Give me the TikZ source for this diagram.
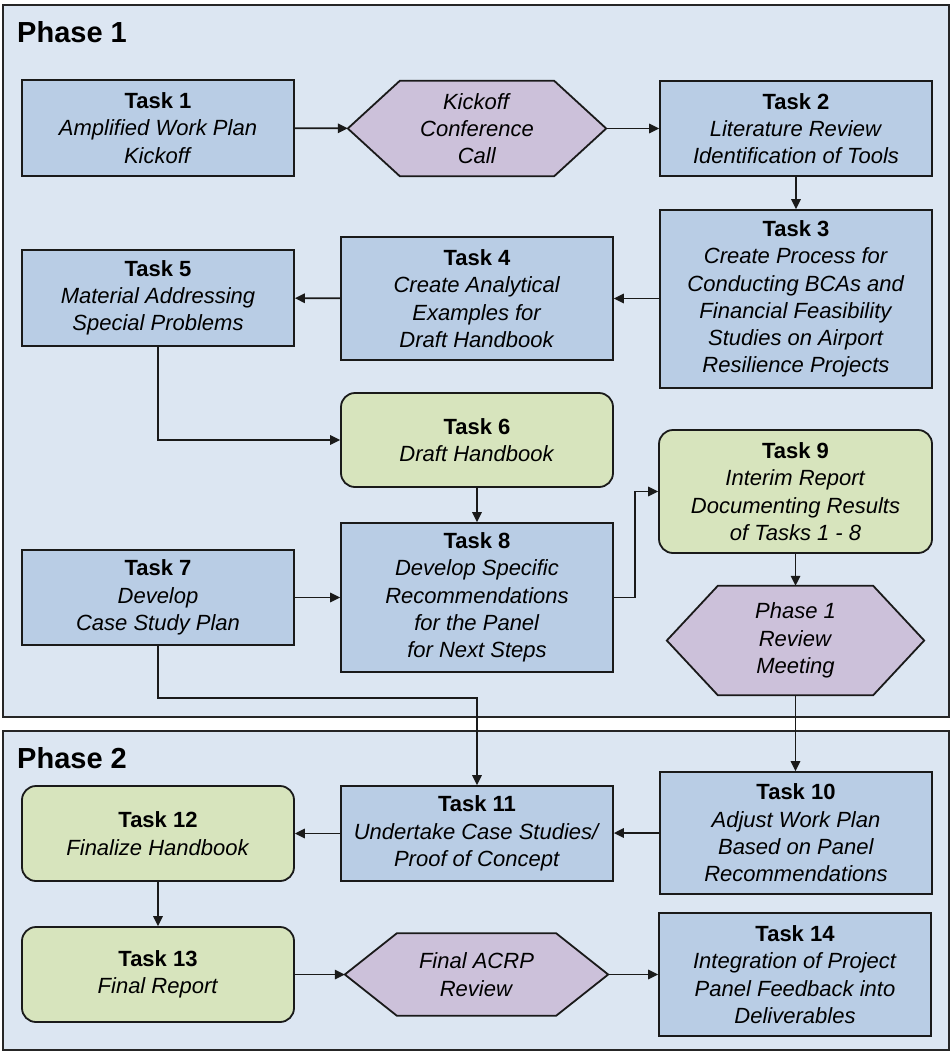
\documentclass[tikz,border=0pt]{standalone}
\usepackage{fontspec}
\setmainfont{Liberation Sans}
\usetikzlibrary{arrows.meta,calc}
\pgfdeclarelayer{bg}
\pgfdeclarelayer{hexl}
\pgfsetlayers{bg,hexl,main}
\definecolor{phasebg}{HTML}{DCE6F2}
\definecolor{boxblue}{HTML}{B9CDE5}
\definecolor{boxgreen}{HTML}{D7E4BD}
\definecolor{boxpurple}{HTML}{CCC1DA}
\definecolor{edge}{HTML}{1A1A1A}
\definecolor{phaseedge}{HTML}{262626}
\newcommand{\tl}[1]{\textbf{#1}}
\newcommand{\il}[1]{\textit{#1}}
\tikzset{
  base/.style={inner sep=0pt, align=center, font=\fontsize{22}{27.3}\selectfont, text=black},
  bluebox/.style={base, draw=edge, line width=1.8pt, fill=boxblue},
  greenbox/.style={base, draw=edge, line width=1.8pt, fill=boxgreen, rounded corners=14pt},
  hexnode/.style={base},
  hexfill/.style={draw=edge, line width=1.8pt, fill=boxpurple, line join=miter},
  conn/.style={draw=edge, line width=1.6pt, -{Triangle[length=10pt,width=9.5pt]}},
  phase/.style={draw=phaseedge, line width=2pt, fill=phasebg},
  phasetitle/.style={anchor=base west, inner sep=0pt, font=\fontsize{29}{34}\selectfont\bfseries}
}
\newcommand{\hexagon}[2]{%
  \begin{pgfonlayer}{hexl}
  \draw[hexfill] ([xshift=#2]#1.north west) -- ([xshift=-#2]#1.north east) -- (#1.east)
     -- ([xshift=-#2]#1.south east) -- ([xshift=#2]#1.south west) -- (#1.west) -- cycle;
  \end{pgfonlayer}}
\begin{document}
\begin{tikzpicture}[x=1pt,y=-1pt]
\useasboundingbox (0,0) rectangle (952,1053);
\begin{pgfonlayer}{bg}
  \fill[white] (0,0) rectangle (952,1053);
  \draw[phase] (3,5) rectangle (949,717);
  \draw[phase] (3,731) rectangle (949,1050);
\end{pgfonlayer}
\node[phasetitle] (p1) at (17,42) {Phase 1};
\node[phasetitle] (p2) at (17,768) {Phase 2};

% Phase 1
\node[bluebox, minimum width=272, minimum height=96] (t1) at (158,128) {\tl{Task 1}\\\il{Amplified Work Plan}\\\il{Kickoff}};
\node[hexnode, minimum width=258, minimum height=95] (kick) at (477,128.5) {\il{Kickoff}\\\il{Conference}\\\il{Call}};
\hexagon{kick}{52}
\node[bluebox, minimum width=272, minimum height=95] (t2) at (796,128.5) {\tl{Task 2}\\\il{Literature Review}\\\il{Identification of Tools}};
\node[bluebox, minimum width=272, minimum height=178] (t3) at (796,299) {\tl{Task 3}\\\il{Create Process for}\\\il{Conducting BCAs and}\\\il{Financial Feasibility}\\\il{Studies on Airport}\\\il{Resilience Projects}};
\node[bluebox, minimum width=272, minimum height=123] (t4) at (477,298.5) {\tl{Task 4}\\\il{Create Analytical}\\\il{Examples for}\\\il{Draft Handbook}};
\node[bluebox, minimum width=272, minimum height=96] (t5) at (158,298) {\tl{Task 5}\\\il{Material Addressing}\\\il{Special Problems}};
\node[greenbox, minimum width=272, minimum height=94] (t6) at (477,440) {\tl{Task 6}\\\il{Draft Handbook}};
\node[greenbox, minimum width=273, minimum height=123] (t9) at (795.5,491.5) {\tl{Task 9}\\\il{Interim Report}\\\il{Documenting Results}\\\il{of Tasks 1 - 8}};
\node[bluebox, minimum width=272, minimum height=95] (t7) at (158,597.5) {\tl{Task 7}\\\il{Develop}\\\il{Case Study Plan}};
\node[bluebox, minimum width=272, minimum height=149] (t8) at (477,597.5) {\tl{Task 8}\\\il{Develop Specific}\\\il{Recommendations}\\\il{for the Panel}\\\il{for Next Steps}};
\node[hexnode, minimum width=257, minimum height=109] (rev) at (795.5,640.5) {\il{Phase 1}\\\il{Review}\\\il{Meeting}};
\hexagon{rev}{51}

% Phase 2
\node[bluebox, minimum width=272, minimum height=122] (t10) at (796,833) {\tl{Task 10}\\\il{Adjust Work Plan}\\\il{Based on Panel}\\\il{Recommendations}};
\node[bluebox, minimum width=272, minimum height=95] (t11) at (477,833.5) {\tl{Task 11}\\\il{Undertake Case Studies/}\\\il{Proof of Concept}};
\node[greenbox, minimum width=272, minimum height=95] (t12) at (158,833.5) {\tl{Task 12}\\\il{Finalize Handbook}};
\node[greenbox, minimum width=272, minimum height=95] (t13) at (158,974.5) {\tl{Task 13}\\\il{Final Report}};
\node[hexnode, minimum width=263, minimum height=82] (fin) at (476.5,974.5) {\il{Final ACRP}\\\il{Review}};
\hexagon{fin}{52}
\node[bluebox, minimum width=272, minimum height=123] (t14) at (795,974.5) {\tl{Task 14}\\\il{Integration of Project}\\\il{Panel Feedback into}\\\il{Deliverables}};

\coordinate (j7) at (158,698);
\coordinate (j8) at (635,597.5);

% connectors
\draw[conn] (t1) -- (kick);
\draw[conn] (kick) -- (t2);
\draw[conn] (t2) -- (t3);
\draw[conn] (t4.east -| t3.west) -- (t4.east);
\draw[conn] (t4) -- (t5);
\draw[conn] (t5.south) |- (t6.west);
\draw[conn] (t6) -- (t8);
\draw[conn] (t7) -- (t8);
\draw[conn] (t8.east) -- (j8) |- (t9.west);
\draw[conn] (t9) -- (rev);
\draw[conn] (rev.south) -- (rev.south |- t10.north);
\draw[conn] (t7.south) -- (j7) -| (t11.north);
\draw[conn] (t10.west) -- (t10.west -| t11.east);
\draw[conn] (t11) -- (t12);
\draw[conn] (t12) -- (t13);
\draw[conn] (t13) -- (fin);
\draw[conn] (fin) -- (t14);
\end{tikzpicture}
\end{document}
